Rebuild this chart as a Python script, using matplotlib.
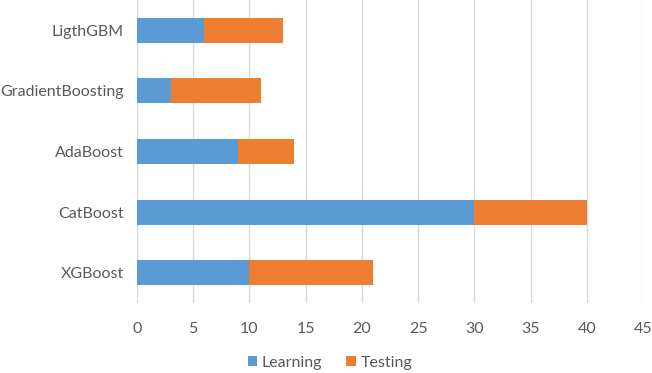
import numpy as np
import matplotlib.pyplot as plt

# Stacked horizontal bars: learning vs testing time per model
models = ['XGBoost', 'CatBoost', 'AdaBoost', 'GradientBoosting', 'LigthGBM']
learning = [10, 30, 9, 3, 6]
testing = [11, 10, 5, 8, 7]
xticks = [0, 5, 10, 15, 20, 25, 30, 35, 40, 45]

blue = '#5B9BD5'
orange = '#ED7D31'
text_color = '#595959'

plt.rcParams['font.family'] = ['Lato', 'DejaVu Sans']

fig = plt.figure(figsize=(6.52, 3.73), dpi=100)
ax = fig.add_axes([137 / 652, 1 - 303 / 373, 506 / 652, 303 / 373])

y = np.arange(len(models))
ax.barh(y, learning, height=0.41, color=blue, label='Learning', zorder=3)
ax.barh(y, testing, left=learning, height=0.41, color=orange, label='Testing', zorder=3)

ax.set_xlim(0, 45)
ax.set_ylim(-0.5, len(models) - 0.5)
ax.set_xticks(xticks)
ax.set_yticks(y)
ax.set_yticklabels(models)
ax.tick_params(axis='both', length=0, labelsize=11.5, colors=text_color)
ax.tick_params(axis='x', pad=14)
ax.tick_params(axis='y', pad=9.5)
ax.grid(axis='x', color='#D9D9D9', linewidth=1, zorder=0)
for s in ax.spines.values():
    s.set_visible(False)

fig.legend(loc='center', bbox_to_anchor=(330 / 652, 1 - 363 / 373), ncol=2,
           frameon=False, fontsize=11.5, handlelength=0.6, handleheight=0.6,
           handletextpad=0.3, columnspacing=1.5, labelcolor=text_color)

fig.savefig('out.png', dpi=100)
